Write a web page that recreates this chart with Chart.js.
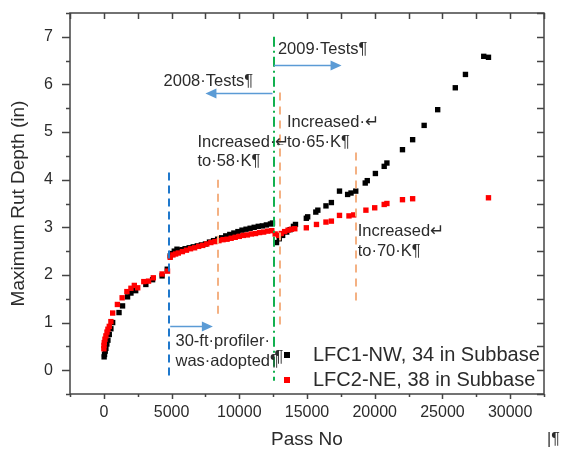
<!DOCTYPE html>
<html><head><meta charset="utf-8">
<script src="https://cdn.jsdelivr.net/npm/chart.js@4/dist/chart.umd.min.js"></script>
<style>html,body{margin:0;padding:0;background:#fff}#wrap{width:561px;height:453px}</style>
</head><body><div id="wrap"><canvas id="c" width="561" height="453"></canvas></div>
<script>
// ---- tick labels ----
const xTickLabels = [0, 5000, 10000, 15000, 20000, 25000, 30000];
const yTickLabels = [0, 1, 2, 3, 4, 5, 6, 7];

// ---- series: LFC1-NW, 34 in Subbase ----
const lfc1Pass = [20,50,100,150,220,300,400,520,650,1120,1380,1750,2000,2350,3100,3600,4300,4680,
  4900,5000,5200,5400,5600,5800,6000,6300,6600,6900,7200,7500,7800,8100,8400,8700,9000,9300,9600,9900,
  10200,10500,10800,11100,11400,11700,12000,12300,12450,
  12750,12950,13200,13500,13750,14000,14150,14950,15050,15650,15800,16400,16800,17400,18000,18250,18600,
  19300,19450,20050,20700,20900,22050,22800,23650,24650,25950,26700,28050,28400];
const lfc1Rut = [0.28,0.33,0.40,0.46,0.55,0.63,0.75,0.87,1.00,1.21,1.35,1.54,1.62,1.67,1.80,1.90,1.98,2.12,
  2.40,2.45,2.50,2.54,2.52,2.53,2.55,2.57,2.59,2.61,2.63,2.65,2.69,2.72,2.75,2.78,2.82,2.85,2.88,2.91,
  2.94,2.96,2.98,3.00,3.02,3.03,3.05,3.07,3.09,
  2.68,2.76,2.83,2.90,2.95,3.02,3.06,3.19,3.22,3.32,3.36,3.45,3.52,3.76,3.69,3.72,3.76,
  3.93,3.98,4.13,4.28,4.35,4.63,4.84,5.14,5.47,5.93,6.21,6.59,6.57];

// ---- series: LFC2-NE, 38 in Subbase ----
const lfc2Pass = [0,10,30,80,150,230,300,400,520,650,1000,1350,1700,2000,2250,2500,2950,3300,3650,4300,4700,
  4900,5100,5300,5500,5800,6100,6400,6700,7000,7300,7600,7900,8200,8500,8800,9100,9400,9700,10000,
  10300,10600,10900,11200,11500,11800,12100,12400,
  12650,12900,13100,13350,13600,13850,14100,14950,15700,16400,16800,17400,18100,18450,19350,20000,
  20700,20900,22050,22800,28400];
const lfc2Rut = [0.45,0.52,0.58,0.65,0.72,0.80,0.86,0.92,1.02,1.20,1.38,1.52,1.65,1.72,1.78,1.73,1.86,1.87,1.94,2.02,2.08,
  2.37,2.42,2.44,2.46,2.49,2.52,2.55,2.57,2.60,2.62,2.65,2.68,2.70,2.72,2.74,2.75,2.77,2.79,2.81,
  2.83,2.84,2.86,2.87,2.89,2.90,2.92,2.93,
  2.86,2.83,2.87,2.91,2.94,2.96,2.97,2.99,3.06,3.11,3.13,3.25,3.24,3.26,3.36,3.41,
  3.48,3.50,3.58,3.60,3.62];

const seriesNames = ['LFC1-NW, 34 in Subbase', 'LFC2-NE, 38 in Subbase'];

// ---- annotation content (data units) ----
const markerPass = [4800, 8400, 12570, 13000, 18600];
const markerFrom = [-0.2, 1.07, -0.22, 0.93, 1.45];
const markerTo   = [4.15, 4.0, 7.0, 5.83, 4.57];
const markerKind = ['blue', 'orange', 'green', 'orange', 'orange'];

const arrowFrom = [12450, 12570, 4900];
const arrowTo   = [7500, 17550, 8050];
const arrowAt   = [5.83, 6.41, 0.93];

const noteText = ['2008\u00b7Tests\u00b6', '2009\u00b7Tests\u00b6',
  'Increased\u00b7\u21b5', 'to\u00b758\u00b7K\u00b6',
  'Increased\u00b7\u21b5', 'to\u00b765\u00b7K\u00b6',
  'Increased\u21b5', 'to\u00b770\u00b7K\u00b6',
  '30-ft\u00b7profiler\u00b7', 'was\u00b7adopted\u00b6', '\u00b6'];
const notePass = [4410, 12850, 6910, 6910, 13520, 13520, 18740, 18740, 5290, 5290, 12600];
const noteRut  = [6.06, 6.73, 4.78, 4.38, 5.20, 4.78, 2.91, 2.50, 0.61, 0.19, 0.27];
const anchorMarkText = '\u2190';
const anchorMarkPass = 12620;
const anchorMarkRut = 4.78;

const FONT = '"Liberation Sans", Arial, sans-serif';
const TXT = '#2b2b2b';
const AX = '#444444';
const kindStyle = {
  blue:   {color: '#1f78cc', dash: [8, 5]},
  orange: {color: '#f4b183', dash: [8, 6]},
  green:  {color: '#12b04f', dash: [10, 4, 2, 4]}
};

const deco = {
  id: 'deco',
  afterDatasetsDraw(chart) {
    const {ctx, chartArea: a, scales: {x, y}} = chart;
    ctx.save();
    ctx.lineWidth = 2;
    markerPass.forEach((p, i) => {
      const st = kindStyle[markerKind[i]];
      ctx.strokeStyle = st.color;
      ctx.setLineDash(st.dash);
      ctx.beginPath();
      const px = Math.round(x.getPixelForValue(p));
      ctx.moveTo(px, y.getPixelForValue(markerTo[i]));
      ctx.lineTo(px, y.getPixelForValue(markerFrom[i]));
      ctx.stroke();
    });
    ctx.setLineDash([]);
    ctx.strokeStyle = '#5b9bd5';
    ctx.fillStyle = '#5b9bd5';
    ctx.lineWidth = 1.5;
    arrowFrom.forEach((f, i) => {
      const x1 = x.getPixelForValue(f), x2 = x.getPixelForValue(arrowTo[i]);
      const yy = Math.round(y.getPixelForValue(arrowAt[i])) + 0.5;
      const dir = Math.sign(x2 - x1);
      ctx.beginPath();
      ctx.moveTo(x1, yy); ctx.lineTo(x2 - dir * 8, yy); ctx.stroke();
      ctx.beginPath();
      ctx.moveTo(x2, yy); ctx.lineTo(x2 - dir * 11, yy - 5); ctx.lineTo(x2 - dir * 11, yy + 5);
      ctx.closePath(); ctx.fill();
    });
    ctx.fillStyle = TXT;
    ctx.textBaseline = 'middle';
    ctx.textAlign = 'left';
    ctx.font = '16.5px ' + FONT;
    noteText.forEach((t, i) => {
      ctx.fillText(t, x.getPixelForValue(notePass[i]), y.getPixelForValue(noteRut[i]));
    });
    ctx.font = '11px ' + FONT;
    ctx.fillText(anchorMarkText, x.getPixelForValue(anchorMarkPass), y.getPixelForValue(anchorMarkRut));
    const ds = chart.data.datasets;
    ctx.font = '20px ' + FONT;
    [0, 1].forEach((di, k) => {
      const ly = a.bottom - 39 + k * 25;
      ctx.fillStyle = ds[di].backgroundColor;
      ctx.fillRect(a.right - 260, ly - 3, 6, 6);
      ctx.fillStyle = TXT;
      ctx.fillText(seriesNames[di], a.right - 231, ly);
    });
    ctx.restore();
  },
  afterDraw(chart) {
    const {ctx, chartArea: a, scales: {x, y}} = chart;
    ctx.save();
    ctx.strokeStyle = AX;
    ctx.lineWidth = 1.5;
    ctx.strokeRect(a.left, a.top, a.right - a.left, a.bottom - a.top);
    ctx.beginPath();
    for (let v = -2500; v <= 32500; v += 2500) {
      const px = Math.round(x.getPixelForValue(v)) + 0.5;
      const major = v % 5000 === 0;
      ctx.moveTo(px, a.bottom); ctx.lineTo(px, a.bottom + (major ? 5 : 3));
      ctx.moveTo(px, a.top); ctx.lineTo(px, a.top + 6);
    }
    for (let v = -0.5; v <= 7.5; v += 0.5) {
      const py = Math.round(y.getPixelForValue(v)) + 0.5;
      const major = Math.abs(v - Math.round(v)) < 1e-6;
      ctx.moveTo(a.left, py); ctx.lineTo(a.left - (major ? 8 : 4), py);
      ctx.moveTo(a.right, py); ctx.lineTo(a.right - 7, py);
    }
    ctx.stroke();
    ctx.fillStyle = TXT;
    ctx.font = '16px ' + FONT;
    ctx.textBaseline = 'middle';
    ctx.fillText('|\u00b6', a.right + 3, a.bottom + 46);
    ctx.restore();
  }
};

const toPts = (xs, ys) => xs.map((v, i) => ({x: v, y: ys[i]}));

new Chart(document.getElementById('c'), {
  type: 'scatter',
  data: {
    datasets: [
      {label: seriesNames[0], data: toPts(lfc1Pass, lfc1Rut), backgroundColor: '#000000', borderColor: '#000000',
       pointStyle: 'rect', pointRadius: 3.8, pointBorderWidth: 0, order: 1},
      {label: seriesNames[1], data: toPts(lfc2Pass, lfc2Rut), backgroundColor: '#ff0000', borderColor: '#ff0000',
       pointStyle: 'rect', pointRadius: 3.8, pointBorderWidth: 0, order: 0}
    ]
  },
  options: {
    responsive: false, animation: false, devicePixelRatio: 1,
    layout: {padding: {left: 0, top: 13, right: 17, bottom: 0}},
    plugins: {legend: {display: false}, tooltip: {enabled: false}},
    scales: {
      x: {
        type: 'linear', min: -2500, max: 32500,
        afterBuildTicks: s => { s.ticks = xTickLabels.map(v => ({value: v})); },
        afterFit: s => { s.height = 59; s.paddingLeft = 0; s.paddingRight = 0; },
        grid: {display: false, drawTicks: false}, border: {display: false},
        ticks: {color: TXT, font: {family: FONT, size: 16}, padding: 9, callback: v => String(v), maxRotation: 0, autoSkip: false},
        title: {display: true, text: 'Pass No', color: TXT, font: {family: FONT, size: 19}, padding: {top: 0, bottom: 2}}
      },
      y: {
        type: 'linear', min: -0.5, max: 7.5,
        afterBuildTicks: s => { s.ticks = yTickLabels.map(v => ({value: v})); },
        afterFit: s => { s.width = 70; s.paddingTop = 0; s.paddingBottom = 0; },
        grid: {display: false, drawTicks: false}, border: {display: false},
        ticks: {color: TXT, font: {family: FONT, size: 16}, padding: 17, callback: v => String(v)},
        title: {display: true, text: 'Maximum Rut Depth (in)', color: TXT, font: {family: FONT, size: 19}, padding: {top: 7, bottom: 0}}
      }
    }
  },
  plugins: [deco]
});
</script>
</body></html>
